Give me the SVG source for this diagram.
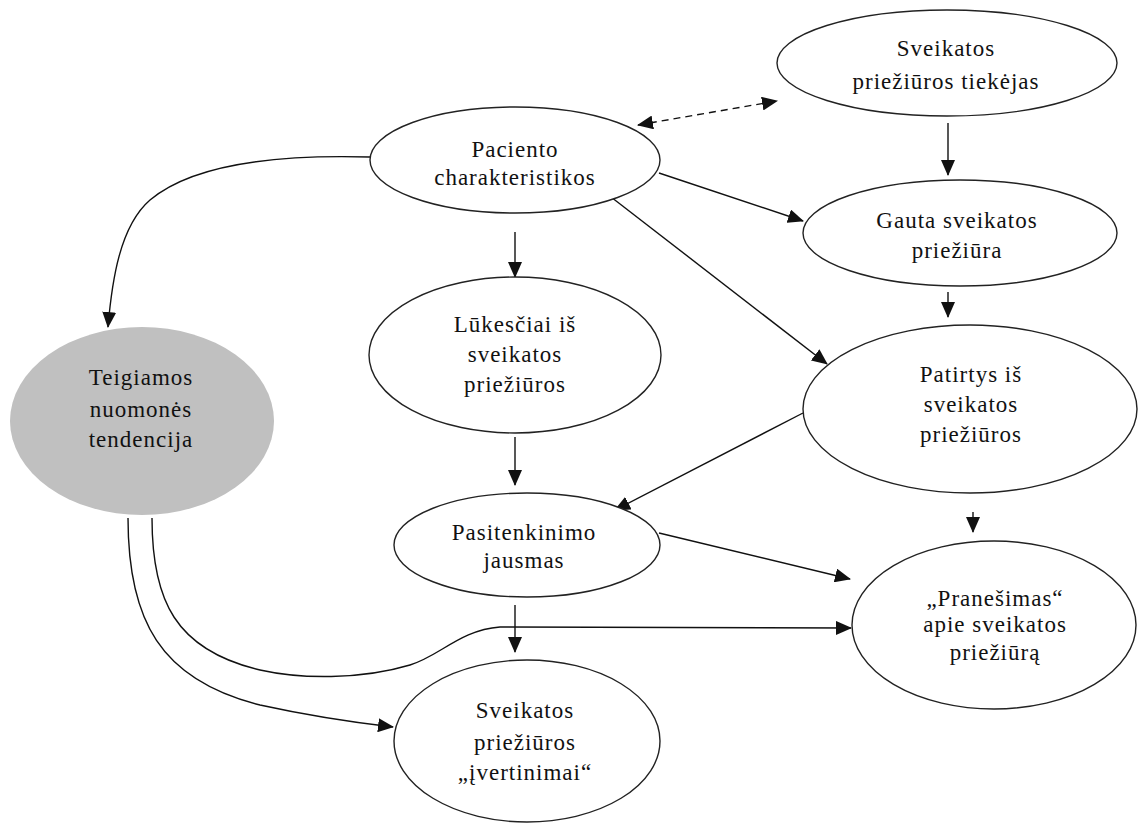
<svg xmlns="http://www.w3.org/2000/svg" width="1138" height="827" viewBox="0 0 1138 827">
<style>
.n{fill:#fff;stroke:#222;stroke-width:1.4}
.g{fill:#c0c0c0;stroke:none}
.t{font-family:"Liberation Serif","Times New Roman",serif;font-size:23px;letter-spacing:1px;fill:#111;text-anchor:middle}
.c{fill:none;stroke:#111;stroke-width:1.4}
.d{stroke-dasharray:7,5}
</style>
<defs>
<marker id="ah" markerUnits="userSpaceOnUse" markerWidth="16" markerHeight="14" viewBox="0 0 16 14" refX="15" refY="7" orient="auto">
<path d="M0,0 L16,7 L0,14 Z" fill="#111"/>
</marker>
<marker id="as" markerUnits="userSpaceOnUse" markerWidth="16" markerHeight="14" viewBox="0 0 16 14" refX="1" refY="7" orient="auto">
<path d="M16,0 L0,7 L16,14 Z" fill="#111"/>
</marker>
</defs>
<rect width="1138" height="827" fill="#fff"/>
<g id="connectors">
<path class="c d" d="M638,125 L777,101" marker-start="url(#as)" marker-end="url(#ah)"/>
<path class="c" d="M948,123 L948,175" marker-end="url(#ah)"/>
<path class="c" d="M659,173 L803,221" marker-end="url(#ah)"/>
<path class="c" d="M611,197 L827,364" marker-end="url(#ah)"/>
<path class="c" d="M515,232 L515,277" marker-end="url(#ah)"/>
<path class="c" d="M370,157 C300,155 200,158 150,200 C120,226 112,280 108,327" marker-end="url(#ah)"/>
<path class="c" d="M948,292 L948,317" marker-end="url(#ah)"/>
<path class="c" d="M515,437 L515,485" marker-end="url(#ah)"/>
<path class="c" d="M803,413 L615,510" marker-end="url(#ah)"/>
<path class="c" d="M973,512 L973,532" marker-end="url(#ah)"/>
<path class="c" d="M659,533 L850,579" marker-end="url(#ah)"/>
<path class="c" d="M515,605 L515,652" marker-end="url(#ah)"/>
<path class="c" d="M152,518 C152,600 175,650 260,670 C300,679 360,680 410,665 C440,656 460,630 500,627 L851,628" marker-end="url(#ah)"/>
<path class="c" d="M128,518 C128,620 160,680 260,705 C310,716 350,722 393,727" marker-end="url(#ah)"/>
</g>
<g id="tiekejas">
<ellipse class="n" cx="947" cy="63" rx="170" ry="53"/>
<text class="t" x="946" y="56">Sveikatos</text>
<text class="t" x="946" y="89">priežiūros tiekėjas</text>
</g>
<g id="paciento">
<ellipse class="n" cx="515" cy="160" rx="145" ry="53"/>
<text class="t" x="515" y="157">Paciento</text>
<text class="t" x="515" y="185">charakteristikos</text>
</g>
<g id="gauta">
<ellipse class="n" cx="960" cy="233" rx="157" ry="53"/>
<text class="t" x="957" y="228">Gauta sveikatos</text>
<text class="t" x="957" y="258">priežiūra</text>
</g>
<g id="teigiamos">
<ellipse class="g" cx="142" cy="421" rx="132" ry="94"/>
<text class="t" x="141" y="385">Teigiamos</text>
<text class="t" x="141" y="417">nuomonės</text>
<text class="t" x="141" y="447">tendencija</text>
</g>
<g id="lukesciai">
<ellipse class="n" cx="515" cy="355" rx="146" ry="78"/>
<text class="t" x="515" y="332">Lūkesčiai iš</text>
<text class="t" x="515" y="362">sveikatos</text>
<text class="t" x="515" y="392">priežiūros</text>
</g>
<g id="patirtys">
<ellipse class="n" cx="970" cy="409" rx="167" ry="84"/>
<text class="t" x="971" y="382">Patirtys iš</text>
<text class="t" x="971" y="412">sveikatos</text>
<text class="t" x="971" y="442">priežiūros</text>
</g>
<g id="pasitenkinimo">
<ellipse class="n" cx="527" cy="545" rx="133" ry="52"/>
<text class="t" x="524" y="540">Pasitenkinimo</text>
<text class="t" x="524" y="568">jausmas</text>
</g>
<g id="pranesimas">
<ellipse class="n" cx="994" cy="625" rx="142" ry="84"/>
<text class="t" x="995" y="606">„Pranešimas“</text>
<text class="t" x="995" y="632">apie sveikatos</text>
<text class="t" x="995" y="660">priežiūrą</text>
</g>
<g id="ivertinimai">
<ellipse class="n" cx="527" cy="741" rx="133" ry="81"/>
<text class="t" x="525" y="718">Sveikatos</text>
<text class="t" x="525" y="750">priežiūros</text>
<text class="t" x="525" y="780">„įvertinimai“</text>
</g>
</svg>
